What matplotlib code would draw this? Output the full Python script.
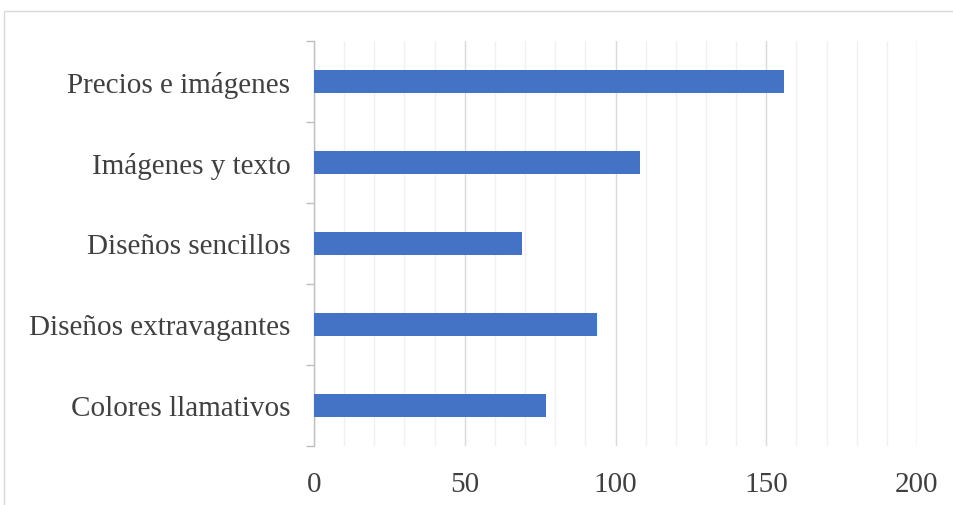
import matplotlib
matplotlib.use("Agg")
import matplotlib.pyplot as plt
from matplotlib.patches import Rectangle
from matplotlib.ticker import MultipleLocator

categories = ["Colores llamativos", "Diseños extravagantes", "Diseños sencillos",
              "Imágenes y texto", "Precios e imágenes"]
values = [77, 94, 69, 108, 156]
x_ticks = [0, 50, 100, 150, 200]

W, H = 954, 506
fig = plt.figure(figsize=(W / 100, H / 100), dpi=100)
fig.patch.set_facecolor("white")

# chart-area frame
fig.add_artist(Rectangle((4 / W, -0.05), 1.2, 1 - 12 / H + 0.05,
                         transform=fig.transFigure, fill=False,
                         edgecolor="#d9d9d9", linewidth=1.0))

ax = fig.add_axes([314 / W, 1 - 447 / H, (917 - 314) / W, (447 - 42) / H])
ypos = list(range(len(categories)))
ax.barh(ypos, values, height=0.28, color="#4472c4", zorder=3)

ax.set_xlim(0, 200)
ax.set_ylim(-0.5, len(categories) - 0.5)
ax.set_xticks(x_ticks)
ax.xaxis.set_minor_locator(MultipleLocator(10))
ax.grid(axis="x", which="minor", color="#f0f0f0", linewidth=1.0, zorder=0)
ax.grid(axis="x", which="major", color="#d9d9d9", linewidth=1.0, zorder=1)

ax.set_yticks(ypos)
ax.set_yticklabels(categories)
ax.set_yticks([i - 0.5 for i in range(len(categories) + 1)], minor=True)
ax.tick_params(axis="y", which="major", length=0, pad=17)
ax.tick_params(axis="y", which="minor", length=6, color="#bfbfbf", width=1.0)
ax.tick_params(axis="x", which="both", length=0, pad=18)

for s in ["top", "right", "bottom"]:
    ax.spines[s].set_visible(False)
ax.spines["left"].set_color("#bfbfbf")
ax.spines["left"].set_linewidth(1.0)

for lbl in ax.get_yticklabels() + ax.get_xticklabels():
    lbl.set_fontfamily("Liberation Serif")
    lbl.set_fontsize(21)
    lbl.set_color("#404040")

fig.savefig("out.png", dpi=100, facecolor="white")
